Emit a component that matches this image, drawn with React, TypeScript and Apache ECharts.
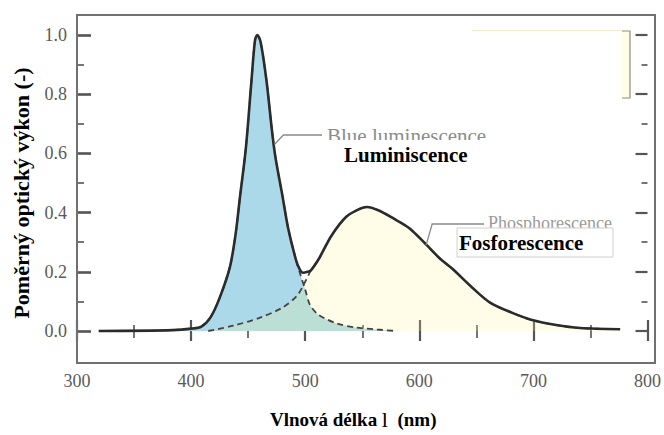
import React, { useEffect, useRef } from "react";
import * as echarts from "echarts";

// Wavelength (nm) and relative optical power
const totalNm = [319, 384, 400, 409, 417, 425, 434, 439, 443, 448, 453, 456, 458, 461, 466, 471, 474, 480, 485, 492, 495, 498, 502, 505, 512, 523, 536, 548, 554, 564, 577, 591, 604, 618, 629, 646, 662, 681, 698, 720, 741, 776];
const totalVal = [0, 0.003, 0.008, 0.015, 0.046, 0.112, 0.216, 0.327, 0.458, 0.618, 0.85, 0.982, 1.0, 0.975, 0.848, 0.673, 0.585, 0.458, 0.348, 0.239, 0.21, 0.197, 0.2, 0.205, 0.244, 0.322, 0.386, 0.413, 0.419, 0.408, 0.381, 0.348, 0.3, 0.245, 0.21, 0.148, 0.096, 0.062, 0.038, 0.02, 0.01, 0.006];

const blueNm = [384, 400, 409, 417, 425, 434, 439, 443, 448, 453, 456, 458, 461, 466, 471, 474, 480, 485, 492, 495, 500, 504, 510, 516, 528, 544, 563, 580];
const blueVal = [0.003, 0.008, 0.015, 0.046, 0.112, 0.216, 0.327, 0.458, 0.618, 0.85, 0.982, 1.0, 0.975, 0.848, 0.673, 0.585, 0.458, 0.348, 0.239, 0.2, 0.14, 0.09, 0.06, 0.045, 0.025, 0.012, 0.005, 0];

const phosNm = [415, 437, 461, 480, 493, 501, 505, 512, 523, 536, 548, 554, 564, 577, 591, 604, 618, 629, 646, 662, 681, 698, 720, 741, 776];
const phosVal = [0, 0.018, 0.046, 0.079, 0.12, 0.174, 0.205, 0.244, 0.322, 0.386, 0.413, 0.419, 0.408, 0.381, 0.348, 0.3, 0.245, 0.21, 0.148, 0.096, 0.062, 0.038, 0.02, 0.01, 0.006];

const xMin = 300;
const xMax = 800;
const xStep = 100;
const yMin = 0;
const yMax = 1.0;
const yStep = 0.2;

const xTitle = "Vlnová délka {l|l}  (nm)";
const yTitle = "Poměrný optický výkon (-)";
const blueLabelOld = "Blue luminescence";
const blueLabel = "Luminiscence";
const phosLabelOld = "Phosphorescence";
const phosLabel = "Fosforescence";
const blueAnchor = [473, 0.63];
const phosAnchor = [606, 0.29];

const SERIF = "'Liberation Serif', 'Times New Roman', serif";

// layout (pixels)
const W = 664;
const H = 435;
const frameL = 77;
const frameR = 655;
const frameT = 15;
const frameB = 363;
const gridT = 35;
const gridB = 332;

export default function App() {
  const ref = useRef<HTMLDivElement>(null);

  useEffect(() => {
    if (!ref.current) return;
    const chart = echarts.init(ref.current, null, { renderer: "svg" });
    const zip = (xs: number[], ys: number[]) => xs.map((x, i) => [x, ys[i]]);

    const tickStyle = { color: "#555", width: 2.2 };
    const minorStyle = { color: "#666", width: 1.8 };

    chart.setOption({
      animation: false,
      backgroundColor: "#ffffff",
      grid: { left: frameL, right: W - frameR, top: gridT, bottom: H - gridB, containLabel: false },
      xAxis: [
        {
          type: "value", position: "bottom", offset: frameB - gridB,
          min: xMin, max: xMax, interval: xStep,
          name: xTitle, nameLocation: "middle", nameGap: 46,
          nameTextStyle: {
            fontFamily: SERIF, fontSize: 19, fontWeight: "bold", color: "#000",
            padding: [0, 18, 0, 0],
            rich: { l: { fontFamily: SERIF, fontSize: 22, fontWeight: "normal", color: "#000" } },
          },
          axisLine: { show: false },
          axisTick: { show: true, inside: true, length: 11, lineStyle: tickStyle },
          minorTick: { show: true, splitNumber: 2, length: 6, lineStyle: minorStyle },
          axisLabel: { margin: 10, fontFamily: SERIF, fontSize: 18, color: "#5a5a5a" },
          splitLine: { show: false },
        },
        {
          type: "value", position: "top", offset: gridT - frameT,
          min: xMin, max: xMax, interval: xStep,
          axisLine: { show: false },
          axisTick: { show: true, inside: true, length: 10, lineStyle: tickStyle },
          minorTick: { show: true, splitNumber: 2, length: 7, lineStyle: minorStyle },
          axisLabel: { show: false },
          splitLine: { show: false },
        },
      ],
      yAxis: [
        {
          type: "value", position: "left",
          min: yMin, max: yMax, interval: yStep,
          name: yTitle, nameLocation: "middle", nameGap: 45, nameRotate: 90,
          nameTextStyle: { fontFamily: SERIF, fontSize: 22, fontWeight: "bold", color: "#000", padding: [0, 20, 0, 0] },
          axisLine: { show: false },
          axisTick: { show: true, inside: true, length: 14, lineStyle: { color: "#555", width: 2.6 } },
          minorTick: { show: true, splitNumber: 2, length: 7, lineStyle: minorStyle },
          axisLabel: { margin: 10, fontFamily: SERIF, fontSize: 18, color: "#5a5a5a", formatter: (v: number) => v.toFixed(1) },
          splitLine: { show: false },
        },
        {
          type: "value", position: "right",
          min: yMin, max: yMax, interval: yStep,
          axisLine: { show: false },
          axisTick: { show: true, inside: true, length: 12, lineStyle: tickStyle },
          minorTick: { show: true, splitNumber: 2, length: 6, lineStyle: minorStyle },
          axisLabel: { show: false },
          splitLine: { show: false },
        },
      ],
      series: [
        {
          name: "Blue luminescence", type: "line", data: zip(blueNm, blueVal),
          showSymbol: false, smooth: 0.3, clip: false,
          lineStyle: { color: "#444", width: 1.8, type: [6, 4] },
          areaStyle: { color: "#abd9e9", opacity: 1 },
        },
        {
          name: "Phosphorescence", type: "line", data: zip(phosNm, phosVal),
          showSymbol: false, smooth: 0.3, clip: false,
          lineStyle: { color: "#444", width: 1.8, type: [6, 4] },
          areaStyle: { color: "rgba(255,244,140,0.3)" },
        },
        {
          name: "Total", type: "line", data: zip(totalNm, totalVal),
          showSymbol: false, smooth: 0.3, clip: false,
          lineStyle: { color: "#2b2b2b", width: 2.6 },
        },
      ],
    });

    const pb = chart.convertToPixel({ xAxisIndex: 0, yAxisIndex: 0 }, blueAnchor) as number[];
    const pp = chart.convertToPixel({ xAxisIndex: 0, yAxisIndex: 0 }, phosAnchor) as number[];

    chart.setOption({
      graphic: [
        { type: "rect", z: 100, silent: true, shape: { x: frameL, y: frameT, width: frameR - frameL, height: frameB - frameT }, style: { fill: "none", stroke: "#707070", lineWidth: 2 } },
        // remains of a covered legend box (top right)
        { type: "rect", z: 100, silent: true, shape: { x: 472, y: 31, width: 158, height: 67 }, style: { fill: "#fffde6", stroke: "#8f8b7a", lineWidth: 1.2 } },
        { type: "rect", z: 101, silent: true, shape: { x: 468, y: 29.5, width: 154, height: 70.5 }, style: { fill: "#ffffff" } },
        { type: "line", z: 101, silent: true, shape: { x1: 472, y1: 30.5, x2: 622, y2: 30.5 }, style: { stroke: "#f0ebcf", lineWidth: 1 } },
        // Blue luminescence label
        { type: "polyline", z: 100, silent: true, shape: { points: [[pb[0], pb[1]], [pb[0] + 9, 135], [322, 135]] }, style: { fill: "none", stroke: "#8a8a8a", lineWidth: 1.3 } },
        { type: "text", z: 100, silent: true, x: 327, y: 136, style: { text: blueLabelOld, fontFamily: SERIF, fontSize: 21, fill: "#8c8c8c", verticalAlign: "middle", align: "left" } },
        { type: "rect", z: 101, silent: true, shape: { x: 324, y: 140, width: 168, height: 31 }, style: { fill: "#ffffff" } },
        { type: "text", z: 102, silent: true, x: 344, y: 155, style: { text: blueLabel, fontFamily: SERIF, fontSize: 21, fontWeight: "bold", fill: "#000", verticalAlign: "middle", align: "left" } },
        // Phosphorescence label
        { type: "polyline", z: 100, silent: true, shape: { points: [[pp[0], pp[1]], [pp[0] + 6, 224], [484, 224]] }, style: { fill: "none", stroke: "#8a8a8a", lineWidth: 1.3 } },
        { type: "text", z: 100, silent: true, x: 488, y: 223, style: { text: phosLabelOld, fontFamily: SERIF, fontSize: 18, fill: "#9a9a9a", verticalAlign: "middle", align: "left" } },
        { type: "rect", z: 101, silent: true, shape: { x: 457, y: 228, width: 156, height: 29 }, style: { fill: "#ffffff", stroke: "#d0d0d0", lineWidth: 1 } },
        { type: "text", z: 102, silent: true, x: 459, y: 243, style: { text: phosLabel, fontFamily: SERIF, fontSize: 21, fontWeight: "bold", fill: "#000", verticalAlign: "middle", align: "left" } },
      ],
    });

    return () => chart.dispose();
  }, []);

  return <div ref={ref} style={{ position: "absolute", left: 0, top: 0, width: W, height: H }} />;
}
